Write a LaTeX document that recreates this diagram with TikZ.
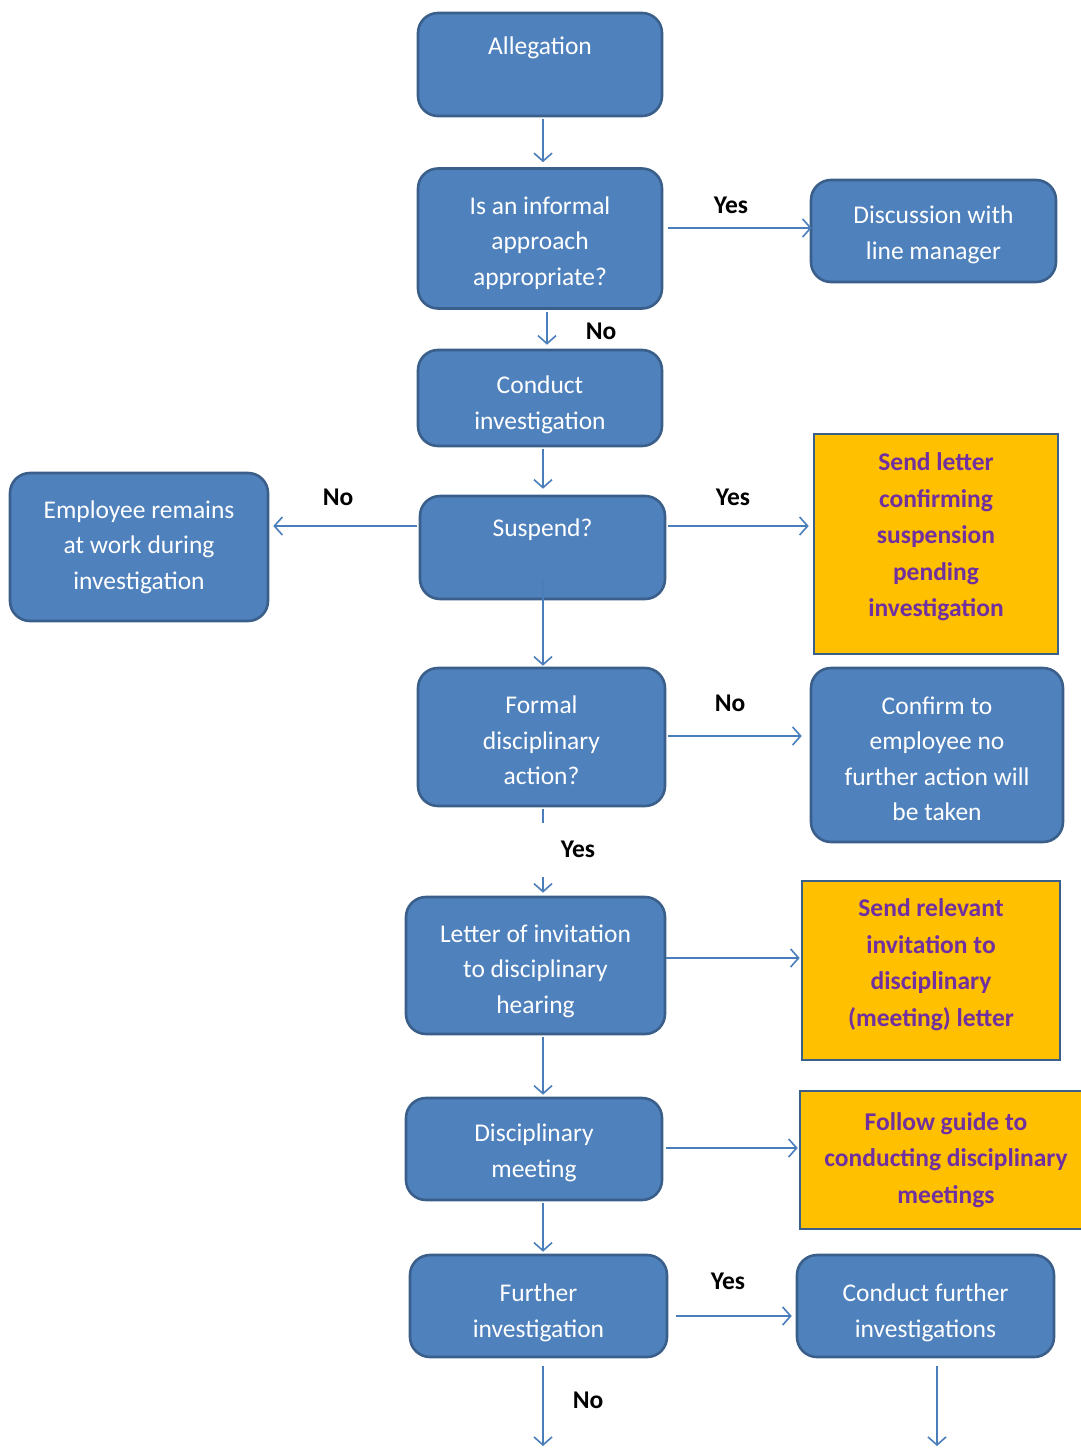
\documentclass[tikz,border=0pt]{standalone}
\usepackage{fontspec}
\setmainfont{Carlito}
\usetikzlibrary{arrows.meta}
\definecolor{boxfill}{HTML}{4F81BD}
\definecolor{boxedge}{HTML}{3A5F8B}
\definecolor{linkcol}{HTML}{4A7EBB}
\definecolor{notefill}{HTML}{FFC000}
\definecolor{notetext}{HTML}{7030A0}
% invisible strut on the first line to set the text lower inside its box
\newcommand\lift[1]{\rule{0pt}{#1}}
\tikzset{
  stage/.style={draw=boxedge, line width=2.6pt, fill=boxfill, rounded corners=20pt,
    text=white, align=center, inner sep=0pt,
    font=\fontsize{25.5}{35.5}\selectfont},
  note/.style={draw=boxedge, line width=2.6pt, fill=notefill,
    text=notetext, align=center, inner sep=0pt,
    font=\fontsize{25.5}{36.5}\selectfont\bfseries},
  link/.style={draw=linkcol, line width=1.6pt,
    -{Straight Barb[length=8pt,width=18pt,line width=1.6pt]}},
  plain/.style={draw=linkcol, line width=1.6pt},
  answer/.style={text=black, font=\fontsize{25.5}{30}\selectfont\bfseries, inner sep=0pt}
}
\begin{document}
\begin{tikzpicture}[x=1pt, y=-1pt]
\useasboundingbox[fill=white] (0,0) rectangle (1081,1448);

% main column
\node[stage, minimum width=244pt, minimum height=103pt] (alleg) at (540,64.5) {\lift{27pt}Allegation\\\strut};
\node[stage, minimum width=244pt, minimum height=140pt] (informal) at (540,238.5) {\lift{27pt}Is an informal\\approach\\appropriate?};
\node[stage, minimum width=244pt, minimum height=96pt] (conduct) at (540,398) {\lift{31pt}Conduct\\investigation};
\node[stage, minimum width=245pt, minimum height=103pt] (suspend) at (542.5,547.5) {\lift{25pt}Suspend?\\\strut};
\node[stage, minimum width=247pt, minimum height=138pt] (formal) at (541.5,737) {\lift{25pt}Formal\\disciplinary\\action?};
\node[stage, minimum width=259pt, minimum height=137pt] (invite) at (535.5,965.5) {\lift{29pt}Letter of invitation\\to disciplinary\\hearing};
\node[stage, minimum width=256pt, minimum height=102pt] (meeting) at (534,1149) {\lift{25pt}Disciplinary\\meeting};
\node[stage, minimum width=257pt, minimum height=102pt] (further) at (538.5,1306) {\lift{31pt}Further\\investigation};

% side boxes
\node[stage, minimum width=245pt, minimum height=102pt] (discuss) at (933.5,231) {\lift{25pt}Discussion with\\line manager};
\node[stage, minimum width=258pt, minimum height=148pt] (remain) at (139,547) {Employee remains\\at work during\\investigation};
\node[stage, minimum width=252pt, minimum height=174pt] (confirm) at (937,755) {\lift{25pt}Confirm to\\employee no\\further action will\\be taken};
\node[stage, minimum width=257pt, minimum height=102pt] (condfur) at (925.5,1306) {\lift{31pt}Conduct further\\investigations};

% highlighted actions
\node[note, minimum width=244pt, minimum height=220pt] (sendletter) at (936,544)
  {Send letter\\confirming\\suspension\\pending\\investigation\\[-29pt]\strut};
\node[note, minimum width=258pt, minimum height=179pt] (sendinv) at (931,970.5)
  {Send relevant\\invitation to\\disciplinary\\(meeting) letter\\[-32pt]\strut};
\node[note, minimum width=292pt, minimum height=138pt] (guide) at (946,1160)
  {Follow guide to\\conducting disciplinary\\meetings};

% helper coordinates
\coordinate (spine) at (543,0);
\coordinate (brkA) at (543,823);
\coordinate (brkB) at (543,877);
\coordinate (endL) at (543,1446);
\coordinate (endR) at (937,1446);

% vertical flow
\draw[link, shorten <=2pt, shorten >=5pt] (alleg.south -| spine) -- (informal.north -| spine);
\draw[link, shorten <=2pt, shorten >=4pt] ([xshift=7pt]informal.south) -- ([xshift=7pt]informal.south |- conduct.north);
\draw[link, shorten <=2pt, shorten >=6pt] (conduct.south -| spine) -- (suspend.north -| spine);
\draw[link, shorten >=1pt] ([yshift=21pt]suspend.south -| spine) -- (formal.north -| spine);
\draw[plain, shorten <=2pt] (formal.south -| spine) -- (brkA);
\draw[link, shorten >=3pt] (brkB) -- (invite.north -| spine);
\draw[link, shorten <=2pt, shorten >=2pt] (invite.south -| spine) -- (meeting.north -| spine);
\draw[link, shorten <=2pt, shorten >=2pt] (meeting.south -| spine) -- (further.north -| spine);
\draw[link, shorten <=8pt] (further.south -| spine) -- (endL);
\draw[link, shorten <=8pt] (condfur.south -| endR) -- (endR);

% horizontal branches
\draw[link, shorten <=5pt, shorten >=-2pt] ([yshift=10.5pt]informal.east) -- ([yshift=10.5pt]informal.east -| discuss.west);
\draw[link, shorten <=2pt, shorten >=4pt] ([yshift=21.5pt]suspend.west) -- ([yshift=21.5pt]suspend.west -| remain.east);
\draw[link, shorten <=2pt, shorten >=4pt] ([yshift=21.5pt]suspend.east) -- ([yshift=21.5pt]suspend.east -| sendletter.west);
\draw[link, shorten <=2pt, shorten >=8pt] ([yshift=1pt]formal.east) -- ([yshift=1pt]formal.east -| confirm.west);
\draw[link, shorten <=0pt, shorten >=1pt] ([yshift=7.5pt]invite.east) -- ([yshift=7.5pt]invite.east -| sendinv.west);
\draw[link, shorten <=3pt, shorten >=1pt] ([yshift=1pt]meeting.east) -- ([yshift=1pt]meeting.east -| guide.west);
\draw[link, shorten <=8pt, shorten >=4pt] ([yshift=-10pt]further.east) -- ([yshift=-10pt]further.east -| condfur.west);

% answers
\node[answer] (yes1) at (731,205) {Yes};
\node[answer] (no1) at (601,331) {No};
\node[answer] (no2) at (338,497) {No};
\node[answer] (yes2) at (733,497) {Yes};
\node[answer] (no3) at (730,703) {No};
\node[answer] (yes3) at (578,849) {Yes};
\node[answer] (yes4) at (728,1281) {Yes};
\node[answer] (no4) at (588,1400) {No};
\end{tikzpicture}
\end{document}
